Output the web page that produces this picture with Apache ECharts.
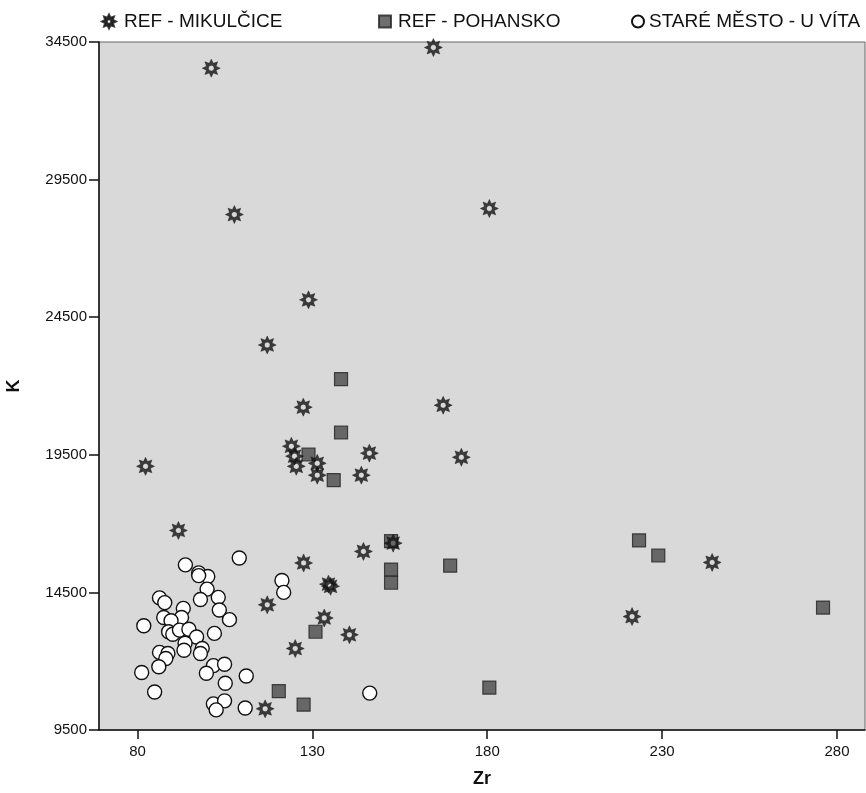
<!DOCTYPE html>
<html lang="en">
<head>
<meta charset="UTF-8">
<title>Zr - K scatter</title>
<style>
  html, body { margin: 0; padding: 0; background: #fff; }
  #chart { width: 866px; height: 793px; }
</style>
</head>
<body>
<div id="chart"></div>
<script src="https://cdn.jsdelivr.net/npm/echarts@6/dist/echarts.min.js"></script>
<script>
// series names
var seriesNames = ['REF - MIKULČICE', 'REF - POHANSKO', 'STARÉ MĚSTO - U VÍTA'];

// [Zr, K] pairs
var mikulcice = [
  [101.1, 33550], [164.6, 34300], [107.7, 28230], [180.6, 28450], [128.9, 25130],
  [117.1, 23490], [127.4, 21230], [167.4, 21300], [82.3, 19080], [124.0, 19810],
  [124.9, 19450], [125.4, 19080], [131.4, 19190], [131.4, 18760], [146.3, 19560],
  [144.0, 18760], [172.6, 19410], [91.7, 16750], [153.1, 16290], [144.6, 15990],
  [127.5, 15570], [134.6, 14800], [135.2, 14720], [117.1, 14050], [133.4, 13570],
  [140.6, 12960], [125.1, 12460], [116.5, 10270], [244.3, 15590], [221.4, 13620]
];
var pohansko = [
  [138.2, 22250], [138.2, 20310], [128.9, 19510], [136.1, 18580], [152.5, 16360],
  [169.4, 15470], [152.5, 15330], [152.5, 14850], [130.9, 13070], [120.4, 10910],
  [127.5, 10420], [180.6, 11040], [223.4, 16390], [228.9, 15840], [276.0, 13950]
];
var stareMesto = [
  [93.7, 15500], [109.1, 15750], [97.5, 15210], [100.1, 15080], [97.5, 15110],
  [99.9, 14620], [98.0, 14240], [103.1, 14320], [103.4, 13860], [106.3, 13510],
  [86.3, 14300], [87.8, 14130], [93.1, 13920], [87.5, 13590], [92.6, 13590],
  [89.6, 13470], [81.8, 13290], [88.9, 13070], [90.1, 12980], [92.0, 13130],
  [94.7, 13160], [96.9, 12880], [102.0, 13010], [93.6, 12650], [93.3, 12400],
  [98.5, 12460], [98.0, 12280], [86.3, 12320], [88.7, 12280], [88.1, 12100],
  [86.1, 11800], [81.2, 11590], [101.7, 11840], [104.9, 11890], [99.7, 11560],
  [105.1, 11200], [111.1, 11460], [84.9, 10880], [101.7, 10450], [104.9, 10560],
  [102.5, 10230], [110.8, 10300], [121.3, 14930], [121.8, 14500], [146.4, 10840]
];

// axis ticks
var xTicks = [80, 130, 180, 230, 280];
var yTicks = [9500, 14500, 19500, 24500, 29500, 34500];

// 8 pointed black star with a white hole in the middle
function starPath() {
  var pts = [], hole = [];
  for (var i = 0; i < 16; i++) {
    var r = i % 2 === 0 ? 50 : 29;
    var a = Math.PI * i / 8 - Math.PI / 2;
    pts.push((50 + r * Math.cos(a)).toFixed(1) + ' ' + (50 + r * Math.sin(a)).toFixed(1));
  }
  for (var j = 0; j < 12; j++) {
    var b = -Math.PI * 2 * j / 12;
    hole.push((50 + 16 * Math.cos(b)).toFixed(1) + ' ' + (50 + 16 * Math.sin(b)).toFixed(1));
  }
  return 'path://M' + pts.join(' L') + ' Z M' + hole.join(' L') + ' Z';
}
var star = starPath();

var font = 'Liberation Sans, Arial, sans-serif';
var plain = function (v) { return String(v); };

var myChart = echarts.init(document.getElementById('chart'));
var option = {
  backgroundColor: '#fff',
  animation: false,
  textStyle: { fontFamily: font },
  legend: [
    { data: [seriesNames[0]], left: 96, top: 7, itemWidth: 14, itemHeight: 14,
      textStyle: { fontSize: 19, color: '#111', fontFamily: font, padding: [0, 0, 0, 3] } },
    { data: [seriesNames[1]], left: 373, top: 7, itemWidth: 12, itemHeight: 12,
      textStyle: { fontSize: 19, color: '#111', fontFamily: font, padding: [0, 0, 0, 2] } },
    { data: [seriesNames[2]], left: 626, top: 7, itemWidth: 12, itemHeight: 12,
      textStyle: { fontSize: 19, color: '#111', fontFamily: font } }
  ],
  grid: {
    left: 99, right: 1, top: 42, bottom: 63,
    outerBoundsMode: 'none',
    show: true, backgroundColor: '#d9d9d9', borderColor: '#666', borderWidth: 1
  },
  xAxis: {
    type: 'value', min: 69, max: 288,
    name: 'Zr', nameLocation: 'middle', nameGap: 40,
    nameTextStyle: { fontSize: 18, fontWeight: 'bold', color: '#111', fontFamily: font },
    axisLine: { show: true, lineStyle: { color: '#111', width: 1.5 } },
    axisTick: { show: true, length: 9, customValues: xTicks, lineStyle: { color: '#111', width: 1.5 } },
    axisLabel: { customValues: xTicks, formatter: plain, fontSize: 15, color: '#111', margin: 14 },
    splitLine: { show: false }
  },
  yAxis: {
    type: 'value', min: 9500, max: 34500,
    name: 'K', nameLocation: 'middle', nameGap: 76, nameRotate: 90,
    nameTextStyle: { fontSize: 18, fontWeight: 'bold', color: '#111', fontFamily: font },
    axisLine: { show: true, lineStyle: { color: '#111', width: 1.5 } },
    axisTick: { show: true, length: 10, customValues: yTicks, lineStyle: { color: '#111', width: 1.5 } },
    axisLabel: { customValues: yTicks, formatter: plain, fontSize: 15, color: '#111', margin: 12 },
    splitLine: { show: false }
  },
  series: [
    {
      name: seriesNames[0], type: 'scatter', data: mikulcice,
      symbol: star, symbolSize: 18, z: 3,
      itemStyle: { color: '#111', borderColor: '#111', borderWidth: 0.5 }
    },
    {
      name: seriesNames[1], type: 'scatter', data: pohansko,
      symbol: 'rect', symbolSize: 13, z: 2,
      itemStyle: { color: '#4a4a4a', borderColor: '#222', borderWidth: 1.2 }
    },
    {
      name: seriesNames[2], type: 'scatter', data: stareMesto,
      symbol: 'circle', symbolSize: 14, z: 2,
      itemStyle: { color: '#fff', borderColor: '#111', borderWidth: 1.4, opacity: 1 }
    }
  ]
};
myChart.setOption(option);
</script>
</body>
</html>
